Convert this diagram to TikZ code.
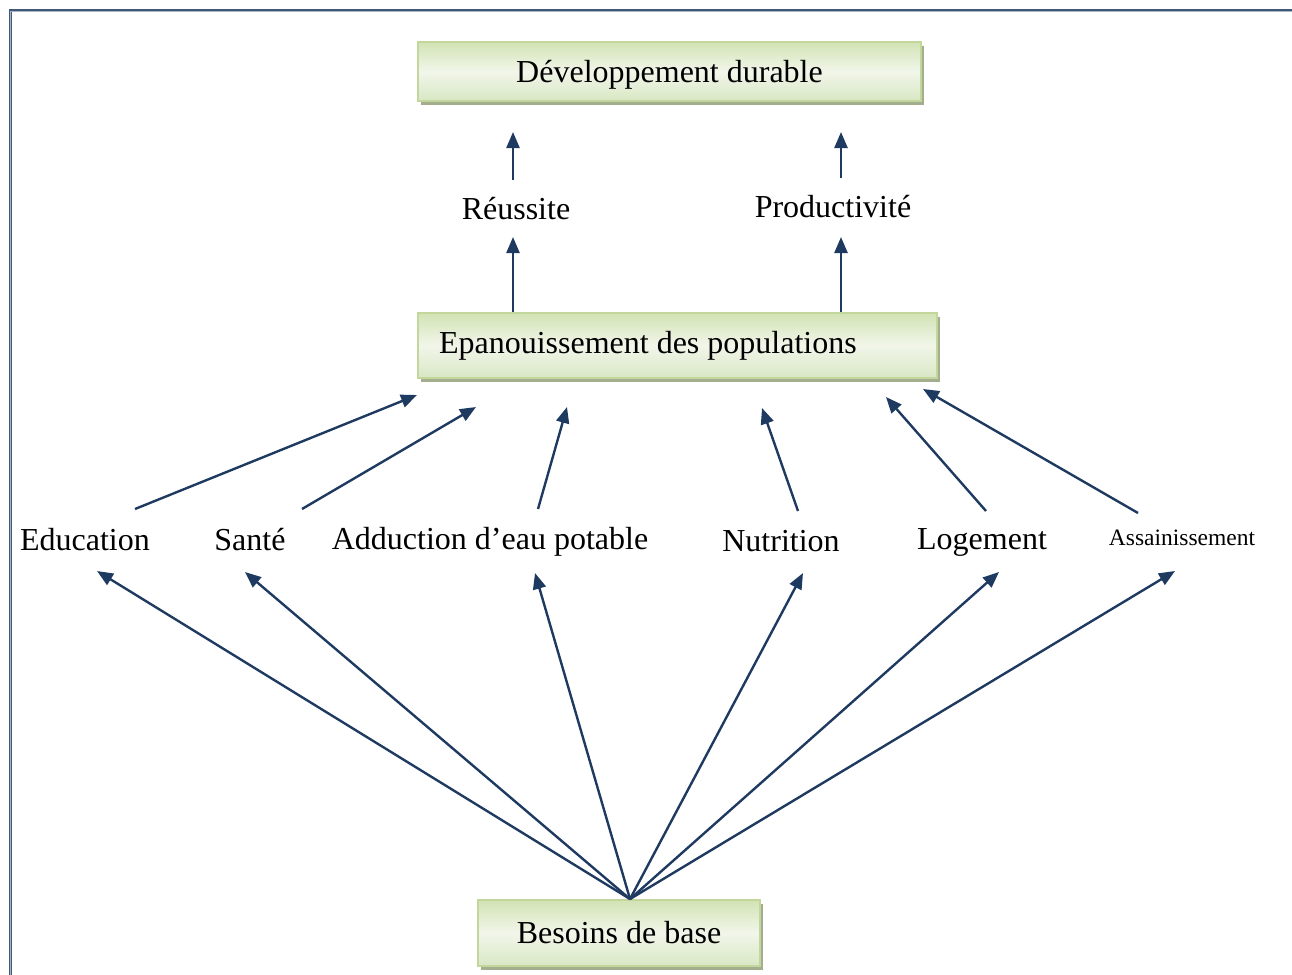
\documentclass[tikz,border=0pt]{standalone}
\usepackage{fontspec}
\setmainfont{Liberation Serif}
\usetikzlibrary{arrows.meta,shadows}

\definecolor{arrowblue}{HTML}{1F3A60}
\definecolor{boxedge}{HTML}{C3D69B}
\definecolor{boxshadow}{HTML}{A3AE8E}
\definecolor{greentop}{HTML}{D2E3B4}
\definecolor{greenbot}{HTML}{D9E7C4}
\definecolor{greenmid}{HTML}{F1F6EA}
\definecolor{framecol}{HTML}{3F5878}

\newcommand\bigfont{\fontsize{32}{38}\selectfont}
\newcommand\midfont{\fontsize{23.5}{28}\selectfont}

\begin{document}
\begin{tikzpicture}[x=1pt,y=-1pt,
  greenbox/.style={draw=boxedge, line width=1.5pt,
    top color=greentop, bottom color=greenbot, middle color=greenmid,
    drop shadow={shadow xshift=3pt, shadow yshift=-4pt, fill=boxshadow, opacity=1},
    inner sep=0pt, font=\bigfont},
  lbl/.style={inner sep=0pt, font=\bigfont},
  arr/.style={draw=arrowblue, line width=2.4pt,
    -{Triangle[length=16pt,width=13pt]}}]

\useasboundingbox (0,0) rectangle (1292,974);
\clip (0,0) rectangle (1292,974);

% outer frame (only top and left edges fall inside the page)
\draw[framecol, line width=3pt] (10,990) |- (1310,11);
\draw[framecol!45!white, line width=0.8pt] (10,990) |- (1310,11);

% boxes
\node[greenbox, minimum width=503pt, minimum height=59pt, text depth=0pt] (dd) at (669.5,71.5) {Développement durable};
\node[greenbox, minimum width=519pt, minimum height=65pt, text width=477pt, align=flush left, inner xsep=21pt] (ep) at (677.5,345.5) {Epanouissement des populations};
\node[greenbox, minimum width=282pt, minimum height=66pt] (bb) at (619,933) {Besoins de base};

% intermediate labels
\node[lbl] (reu) at (516,209) {Réussite};
\node[lbl] (pro) at (833,207) {Productivité};

% basic needs labels
\node[lbl] (edu) at (85,540) {Education};
\node[lbl] (san) at (250,540) {Santé};
\node[lbl] (adu) at (490,542) {Adduction d’eau potable};
\node[lbl] (nut) at (781,541) {Nutrition};
\node[lbl] (log) at (982,542) {Logement};
\node[inner sep=0pt, font=\midfont] (ass) at (1182,538) {Assainissement};

% connector end points
\coordinate (reu-lo) at (513,237);
\coordinate (reu-hi) at (513,180);
\coordinate (dd-l)   at (513,132);
\coordinate (pro-lo) at (841,237);
\coordinate (pro-hi) at (841,178);
\coordinate (dd-r)   at (841,132);

\coordinate (edu-hi) at (135,509);  \coordinate (ep-1) at (417,395);
\coordinate (san-hi) at (302,509);  \coordinate (ep-2) at (476,407);
\coordinate (adu-hi) at (538,509);  \coordinate (ep-3) at (567,407);
\coordinate (nut-hi) at (798,511);  \coordinate (ep-4) at (762,408);
\coordinate (log-hi) at (986,511);  \coordinate (ep-5) at (886,397);
\coordinate (ass-hi) at (1138,513); \coordinate (ep-6) at (923,389);

\coordinate (edu-lo) at (97,571);
\coordinate (san-lo) at (245,572);
\coordinate (adu-lo) at (535,573);
\coordinate (nut-lo) at (803,573);
\coordinate (log-lo) at (999,572);
\coordinate (ass-lo) at (1175,571);
\coordinate (hub) at (630,899);

% upper chain
\draw[arr] (ep.north -| reu-lo) -- (reu-lo);
\draw[arr] (reu-hi) -- (dd-l);
\draw[arr] (ep.north -| pro-lo) -- (pro-lo);
\draw[arr] (pro-hi) -- (dd-r);

% needs towards fulfilment
\draw[arr] (edu-hi) -- (ep-1);
\draw[arr] (san-hi) -- (ep-2);
\draw[arr] (adu-hi) -- (ep-3);
\draw[arr] (nut-hi) -- (ep-4);
\draw[arr] (log-hi) -- (ep-5);
\draw[arr] (ass-hi) -- (ep-6);

% basic needs fan
\foreach \t in {edu,san,adu,nut,log,ass}
  \draw[arr] (hub) -- (\t-lo);

\end{tikzpicture}
\end{document}
